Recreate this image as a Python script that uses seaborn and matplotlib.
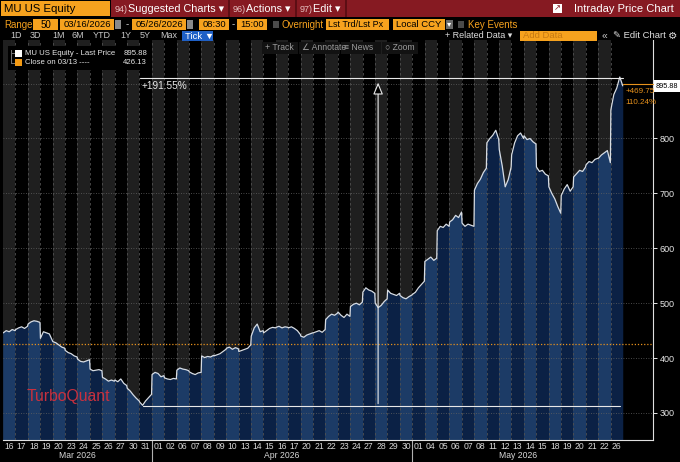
import numpy as np
import pandas as pd
import matplotlib
matplotlib.use("Agg")
import matplotlib.pyplot as plt
import seaborn as sns
from matplotlib.patches import Rectangle
from matplotlib.transforms import blended_transform_factory

# ---------------- data ----------------
mar_days = ["16", "17", "18", "19", "20", "23", "24", "25", "26", "27", "30", "31"]
apr_days = ["01", "02", "06", "07", "08", "09", "10", "13", "14", "15", "16", "17",
            "20", "21", "22", "23", "24", "27", "28", "29", "30"]
may_days = ["01", "04", "05", "06", "07", "08", "11", "12", "13", "14", "15", "18",
            "19", "20", "21", "22", "26"]
month_labels = ["Mar 2026", "Apr 2026", "May 2026"]

# intraday samples (5 per session)
mar_prices = [
    [446, 450, 448, 452, 450],
    [452, 455, 457, 454, 458],
    [462, 466, 468, 467, 465],
    [436, 448, 446, 444, 432],
    [430, 428, 424, 420, 418],
    [414, 410, 408, 404, 402],
    [398, 394, 393, 395, 397],
    [380, 377, 378, 379, 377],
    [365, 362, 358, 360, 358],
    [360, 357, 362, 354, 350],
    [345, 340, 333, 327, 322],
    [320, 314, 322, 328, 334],
]
apr_prices = [
    [370, 374, 372, 366, 368],
    [364, 362, 361, 363, 362],
    [378, 382, 380, 379, 377],
    [375, 372, 370, 373, 374],
    [404, 401, 403, 402, 405],
    [404, 406, 408, 412, 416],
    [418, 420, 416, 419, 417],
    [412, 414, 416, 418, 424],
    [440, 455, 462, 448, 450],
    [446, 450, 454, 456, 455],
    [456, 458, 455, 457, 456],
    [455, 457, 454, 450, 443],
    [440, 438, 442, 444, 446],
    [446, 448, 450, 447, 452],
    [470, 476, 480, 478, 482],
    [484, 478, 474, 480, 476],
    [494, 498, 500, 497, 502],
    [520, 528, 524, 522, 518],
    [500, 492, 496, 503, 508],
    [524, 518, 516, 514, 518],
    [514, 510, 508, 512, 515],
]
may_prices = [
    [516, 520, 528, 534, 540],
    [576, 580, 584, 578, 582],
    [632, 640, 638, 644, 640],
    [648, 652, 660, 656, 666],
    [646, 640, 644, 642, 640],
    [706, 718, 726, 738, 746],
    [792, 800, 806, 815, 798],
    [780, 750, 712, 725, 748],
    [770, 792, 805, 810, 800],
    [805, 798, 800, 794, 790],
    [748, 740, 742, 735, 732],
    [712, 700, 690, 676, 664],
    [696, 708, 716, 704, 712],
    [730, 736, 742, 740, 748],
    [752, 758, 756, 762, 764],
    [764, 770, 774, 778, 756],
    [852, 880, 892, 912, 895.88],
]
prev_close = 426.13
last_price = 895.88
ann_high = 910
ann_low = 312
ann_text = "+191.55%"
tick_levels = [300, 400, 500, 600, 700, 800]
grid_levels = [300, 400, 500, 600, 700, 800, 900]

# ---------------- build frame ----------------
day_labels = mar_days + apr_days + may_days
all_prices = mar_prices + apr_prices + may_prices
n_days = len(day_labels)
rows = []
for d, vals in enumerate(all_prices):
    m = len(vals)
    for k, v in enumerate(vals):
        rows.append({"t": d + 0.02 + 0.96 * k / (m - 1), "price": v})
df = pd.DataFrame(rows)

# ---------------- style ----------------
sns.set_theme(style="dark")
plt.rcParams["font.family"] = ["Liberation Sans", "DejaVu Sans"]

W, H = 680, 462
fig = plt.figure(figsize=(W / 100, H / 100), dpi=100, facecolor="black")

ORANGE = "#f6a21e"
NAVY_D = "#0b2145"
NAVY_L = "#1c3b66"
GRAY_COL = "#1f1f1f"

px_per_day = 12.4
ax_l, ax_r, ax_t, ax_b = 3, 653, 40, 440
ax = fig.add_axes([ax_l / W, 1 - ax_b / H, (ax_r - ax_l) / W, (ax_b - ax_t) / H])
ax.set_facecolor("black")
scale = 0.549  # px per unit
y_bottom = 300 - (ax_b - 413) / scale
y_top = 300 + (413 - ax_t) / scale
ax.set_xlim(0, (ax_r - ax_l) / px_per_day)
ax.set_ylim(y_bottom, y_top)

# day stripes
for i in range(n_days):
    ax.axvspan(i, i + 1, color=GRAY_COL if i % 2 == 0 else "black", lw=0, zorder=0)

poly = ax.fill_between(df["t"], df["price"], y_bottom, color=NAVY_D, lw=0, zorder=1)
clip = poly.get_paths()[0]
for i in range(0, n_days, 2):
    r = ax.axvspan(i, i + 1, color=NAVY_L, lw=0, zorder=1.5)
    r.set_clip_path(clip, ax.transData)

for i in range(1, n_days):
    ax.axvline(i, color="#505050", ls=(0, (3, 3)), lw=0.6, zorder=2)
for v in grid_levels:
    ax.axhline(v, color="#606060", ls=(0, (1, 2)), lw=0.6, zorder=2)
ax.axhline(prev_close, color="#e8921c", ls=(0, (1, 1.5)), lw=0.9, zorder=3)

sns.lineplot(data=df, x="t", y="price", color="#d6dce4", lw=0.9, ax=ax,
             estimator=None, sort=False, legend=False, zorder=4)

# measurement annotation
t_low = df["t"].iloc[df["price"].idxmin()]
t_last = df["t"].iloc[-1]
ax.plot([t_low - 0.2, t_last], [ann_high, ann_high], color="#e8e8e8", lw=0.8, zorder=5)
ax.plot([t_low, t_last - 0.2], [ann_low, ann_low], color="#e8e8e8", lw=0.8, zorder=5)
arrow_x = 30.25
ax.annotate("", xy=(arrow_x, ann_high - 3), xytext=(arrow_x, ann_low),
            arrowprops=dict(arrowstyle="-|>,head_width=0.25,head_length=0.6",
                            fc="black", ec="#e8e8e8", lw=0.8), zorder=5)
ax.text(t_low - 0.05, ann_high - 6, ann_text, color="#e8e8e8", fontsize=7.2,
        va="top", ha="left", zorder=6)

# last price connector
ax.plot([t_last, ax.get_xlim()[1]], [last_price + 4, last_price + 4], color="#e8921c",
        lw=0.8, zorder=5, clip_on=False)
chg = last_price - prev_close
pct = chg / prev_close * 100
ax.text(t_last + 0.25, last_price - 10, f"+{chg:.2f}", color="#e8921c", fontsize=5.8,
        va="center", ha="left", zorder=6)
ax.text(t_last + 0.25, last_price - 30, f"{pct:.2f}%", color="#e8921c", fontsize=5.8,
        va="center", ha="left", zorder=6)

# axes
for s in ["left", "top"]:
    ax.spines[s].set_visible(False)
for s in ["right", "bottom"]:
    ax.spines[s].set_visible(True)
    ax.spines[s].set_color("#e0e0e0")
    ax.spines[s].set_linewidth(0.8)
ax.grid(False)
ax.yaxis.tick_right()
ax.set_yticks(tick_levels)
ax.set_yticklabels([str(v) for v in tick_levels])
ax.tick_params(axis="y", colors="#e6e6e6", labelsize=6.5, length=3, width=0.7,
               direction="out", pad=2)
ax.set_xticks(np.arange(n_days) + 0.5)
ax.set_xticklabels(day_labels)
ax.tick_params(axis="x", colors="#d8d8d8", labelsize=6.2, length=0, pad=1.5)
ax.set_xlabel("")
ax.set_ylabel("")

trans = blended_transform_factory(ax.transData, ax.transAxes)
month_sizes = [len(mar_days), len(apr_days), len(may_days)]
start = 0
for lab, sz in zip(month_labels, month_sizes):
    ax.text(start + sz / 2, -0.038, lab, transform=trans, ha="center", va="center",
            fontsize=6.2, color="#d8d8d8")
    if start > 0:
        ax.plot([start, start], [0, -0.06], transform=trans, color="#b0b0b0",
                lw=0.8, clip_on=False)
    start += sz


# ---------------- figure-level chrome ----------------
def fx(x):
    return x / W


def fy(y):
    return 1 - y / H


def rect(x0, y0, x1, y1, color, z=5, ec="none", lw=0):
    fig.patches.append(Rectangle((fx(x0), fy(y1)), (x1 - x0) / W, (y1 - y0) / H,
                                 transform=fig.transFigure, facecolor=color,
                                 edgecolor=ec, lw=lw, zorder=z))


def txt(x, y, s, color, size, ha="left", **kw):
    fig.text(fx(x), fy(y), s, color=color, fontsize=size, ha=ha, va="center",
             zorder=7, **kw)


# header background
rect(0, 0, 680, 40, "black", z=4)
rect(111, 0, 680, 17, "#861a22")
rect(228, 0, 230, 17, "#5c0e14")
rect(295, 0, 297, 17, "#5c0e14")
rect(345, 0, 347, 17, "#5c0e14")
rect(1, 1, 110, 16, ORANGE)
txt(4, 9, "MU US Equity", "black", 8.2)
txt(115, 9, "94)", "#e6c0c0", 6.5)
txt(128, 9, "Suggested Charts \u25be", "white", 7.8)
txt(233, 9, "96)", "#e6c0c0", 6.5)
txt(246, 9, "Actions \u25be", "white", 7.8)
txt(300, 9, "97)", "#e6c0c0", 6.5)
txt(313, 9, "Edit \u25be", "white", 7.8)
rect(553, 4, 562, 13, "white")
txt(557.5, 8.5, "\u2197", "#861a22", 6, ha="center")
txt(674, 9, "Intraday Price Chart", "white", 8, ha="right")

# row 2
txt(4, 24.5, "Range", ORANGE, 7)
rect(33, 19, 58, 30, ORANGE)
txt(45.5, 24.5, "50", "black", 7, ha="center")
rect(60, 19, 114, 30, ORANGE)
txt(87, 24.5, "03/16/2026", "black", 6.8, ha="center")
rect(115, 20, 121, 29, "#8a8a8a")
txt(127, 24.5, "-", "#d0d0d0", 7, ha="center")
rect(132, 19, 186, 30, ORANGE)
txt(159, 24.5, "05/26/2026", "black", 6.8, ha="center")
rect(187, 20, 193, 29, "#8a8a8a")
rect(199, 19, 229, 30, ORANGE)
txt(214, 24.5, "08:30", "black", 6.8, ha="center")
txt(233, 24.5, "-", "#d0d0d0", 7, ha="center")
rect(237, 19, 267, 30, ORANGE)
txt(252, 24.5, "15:00", "black", 6.8, ha="center")
rect(273, 21, 279, 28, "#4a4a4a")
txt(282, 24.5, "Overnight", ORANGE, 7)
rect(326, 19, 389, 30, ORANGE)
txt(328, 24.5, "Lst Trd/Lst Px", "black", 6.5)
rect(393, 19, 445, 30, ORANGE)
txt(396, 24.5, "Local CCY", "black", 6.8)
rect(446, 20, 453, 29, "#6a6a6a")
txt(449.5, 24.5, "\u25be", "white", 6, ha="center")
rect(458, 21, 464, 28, "#4a4a4a")
txt(468, 24.5, "Key Events", ORANGE, 7)

# row 3
for lab, x in zip(["1D", "3D", "1M", "6M", "YTD", "1Y", "5Y", "Max"],
                  [10, 30, 52, 72, 93, 120, 140, 160]):
    txt(x, 36, lab, "#c8c8c8", 6.5)
rect(182, 31, 213, 41, "#1f60c6")
txt(185, 36, "Tick \u25bc", "white", 6.8)
txt(445, 36, "+ Related Data \u25be", "#dcdcdc", 6.5)
rect(520, 31, 597, 41, ORANGE)
txt(523, 36, "Add Data", "#c77a12", 6.8)
txt(602, 36, "\u00ab", "#c8c8c8", 7.5)
txt(613, 36, "\u270e Edit Chart", "#e0e0e0", 6.8)
txt(668, 36, "\u2699", "#e0e0e0", 7.5)

# toolbar inside chart
for x0, x1, lab in [(262, 298, "+ Track"), (299, 340, "\u2220 Annotate"),
                    (341, 381, "\u2261 News"), (382, 418, "\u25cb Zoom")]:
    rect(x0, 42, x1, 54, "#121212")
    txt(x0 + 3, 48, lab, "#9c9c9c", 6.2)

# legend
rect(8, 46, 152, 70, "black")
rect(10.5, 50, 11.5, 63, "#707070", z=6)
rect(11, 53, 15, 54, "#707070", z=6)
rect(11, 62.5, 15, 63.5, "#707070", z=6)
rect(15, 50.5, 22, 57, "white", z=6)
rect(15, 59.5, 22, 66, "#f39a14", z=6)
txt(25, 53.5, "MU US Equity - Last Price", "#e6e6e6", 5.6)
txt(147, 53.5, f"{last_price:.2f}", "#e6e6e6", 5.6, ha="right")
txt(25, 62.7, "Close on 03/13 ----", "#e6e6e6", 5.6)
txt(147, 62.7, f"{prev_close:.2f}", "#e6e6e6", 5.6, ha="right")

# last price tag
rect(654, 80, 680, 92, "white")
txt(678, 86, f"{last_price:.2f}", "black", 5.3, ha="right")

# TurboQuant label
txt(27, 396, "TurboQuant", "#c8303e", 11.3)

fig.savefig("out.png", dpi=100, facecolor="black")
